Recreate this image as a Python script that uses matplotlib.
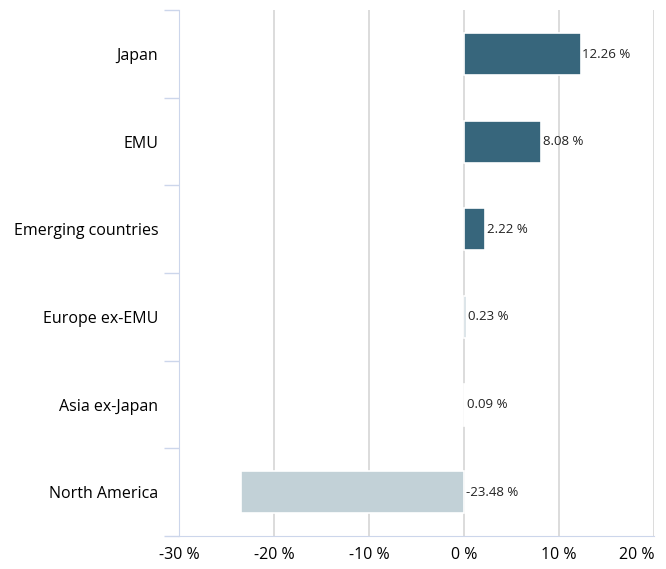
import numpy as np
import matplotlib.pyplot as plt

# data
regions = ["Japan", "EMU", "Emerging countries", "Europe ex-EMU", "Asia ex-Japan", "North America"]
returns = [12.26, 8.08, 2.22, 0.23, 0.09, -23.48]
xticks = [-30, -20, -10, 0, 10, 20]

pos_color = "#37667c"
neg_color = "#c2d1d7"

plt.rcParams['font.family'] = ['Open Sans', 'DejaVu Sans']

fig = plt.figure(figsize=(6.66, 5.69), dpi=100)
ax = fig.add_axes([0.269, 0.058, 0.713, 0.924])

y = np.arange(len(regions))
colors = [pos_color if v >= 0 else neg_color for v in returns]
ax.barh(y, returns, height=0.48, color=colors, edgecolor="white", linewidth=1.2, zorder=2)

for yi, v in zip(y, returns):
    x = max(v, 0) + 0.2
    ax.text(x, yi, f"{v:.2f} %", va="center", ha="left", fontsize=9.5, color="#222222", zorder=3)

ax.set_xlim(-30, 20)
ax.set_ylim(len(regions) - 0.5, -0.5)
ax.set_xticks(xticks)
ax.set_xticklabels([f"{t} %" for t in xticks], fontsize=11.5)
ax.get_xticklabels()[-1].set_horizontalalignment("right")
ax.set_yticks(y)
ax.set_yticklabels(regions, fontsize=11.5)
ax.tick_params(axis="y", length=0, pad=15)
ax.tick_params(axis="x", length=0, pad=8)
ax.set_yticks(np.arange(-0.5, len(regions), 1), minor=True)
ax.tick_params(axis="y", which="minor", length=11, color="#ccd6eb", width=1)

ax.grid(axis="x", color="#d6d6d6", linewidth=1.2, zorder=0)
ax.set_axisbelow(True)
for side in ["top", "right"]:
    ax.spines[side].set_visible(False)
ax.spines["left"].set_color("#ccd6eb")
ax.spines["bottom"].set_color("#ccd6eb")

fig.savefig("out.png", dpi=100)
